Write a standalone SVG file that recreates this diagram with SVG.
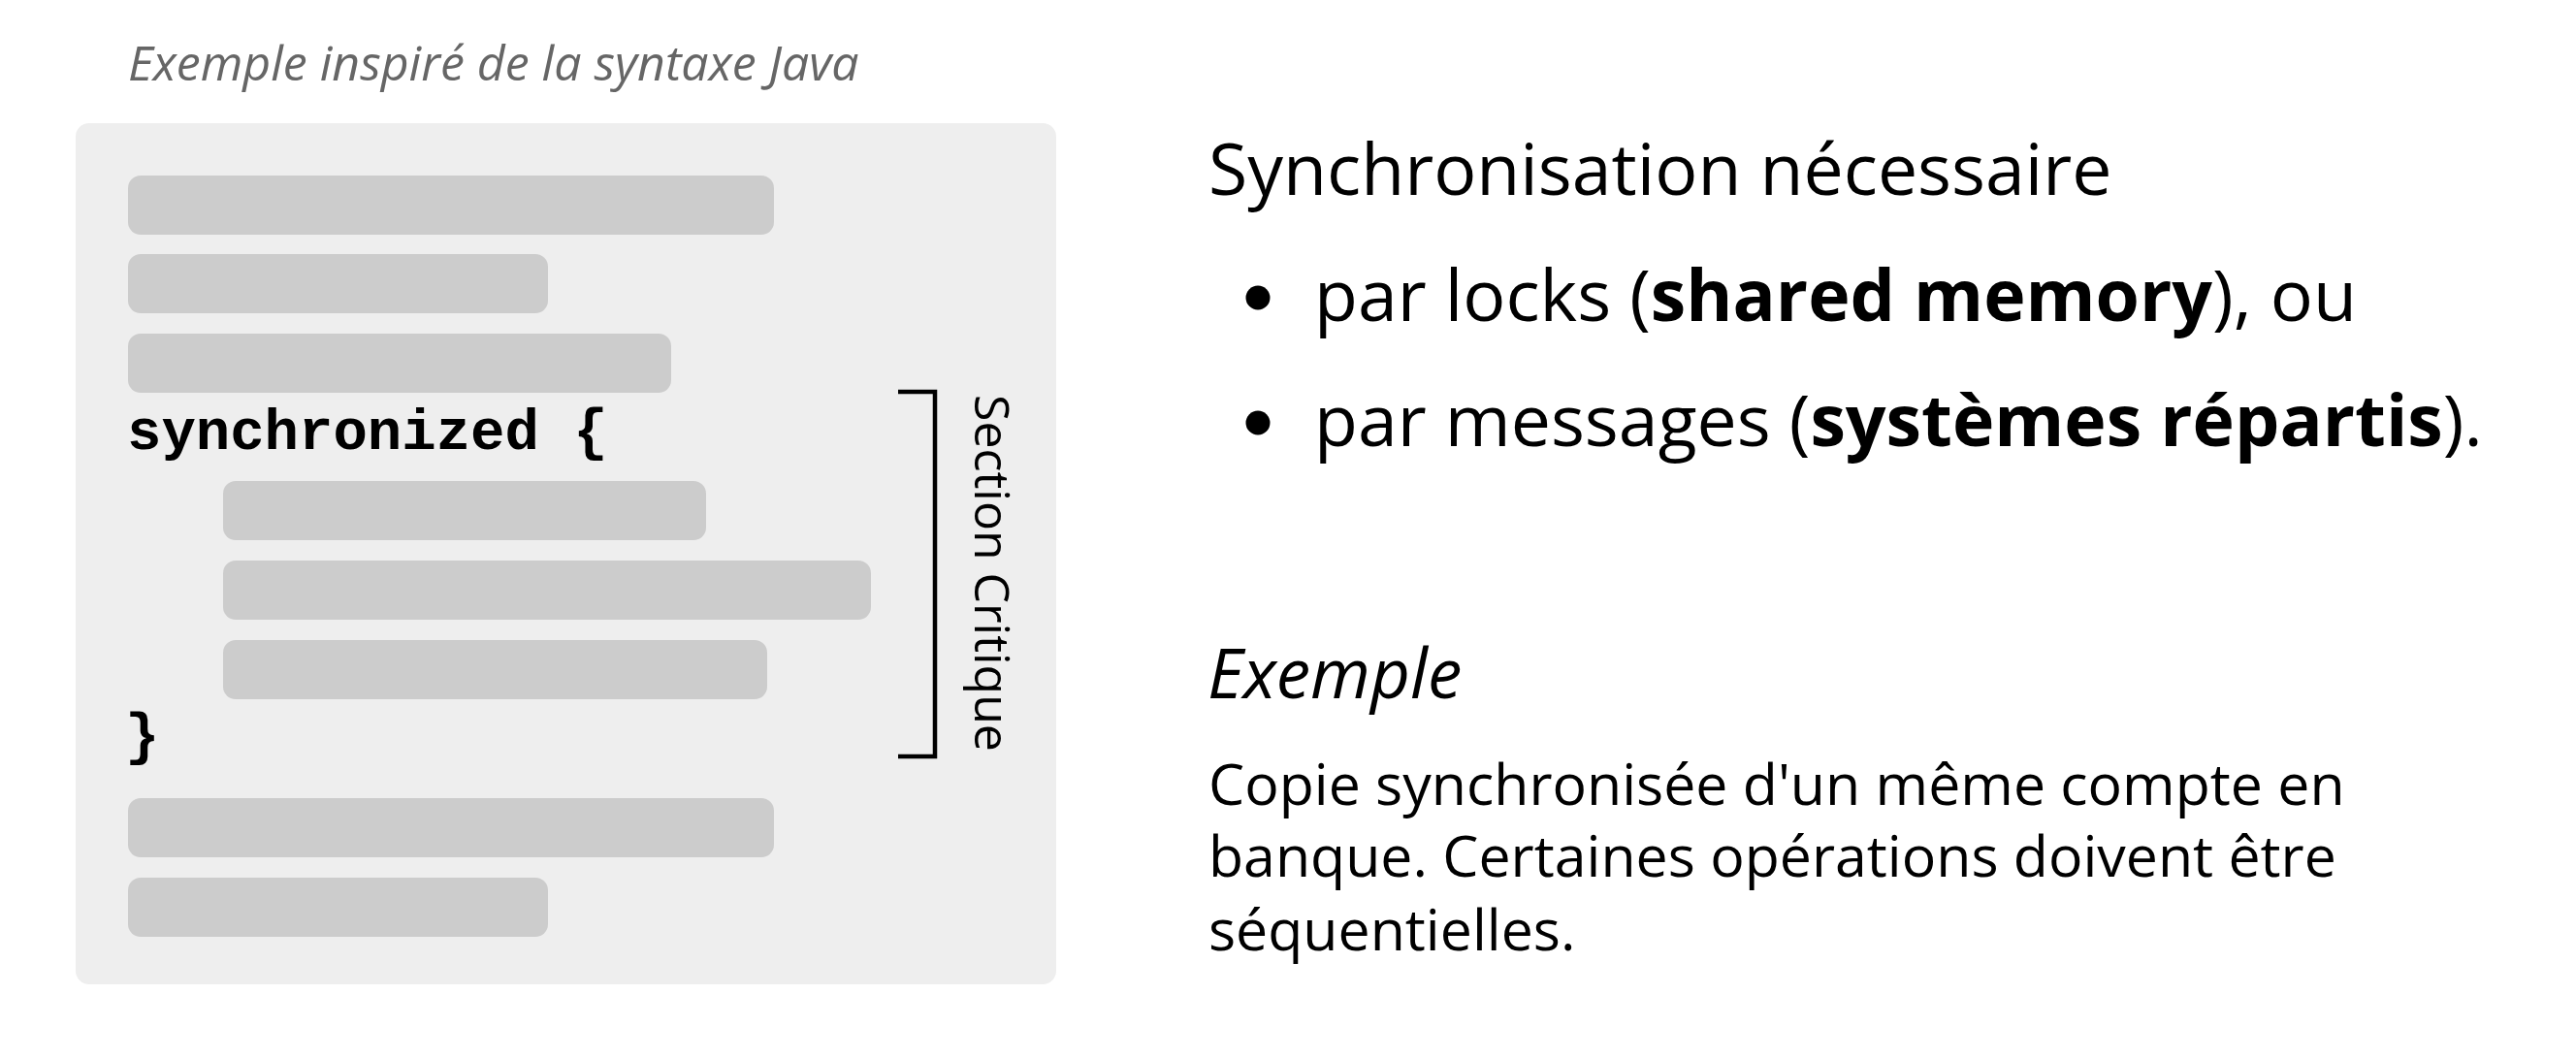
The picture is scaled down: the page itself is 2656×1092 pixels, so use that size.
<svg xmlns="http://www.w3.org/2000/svg" width="2656" height="1092" viewBox="0 0 2656 1092">
<style>
.sans{font-family:"Open Sans","Noto Sans","DejaVu Sans",sans-serif;fill:#000}
.bar{fill:#cccccc}
.code{font-family:"Liberation Mono","DejaVu Sans Mono",monospace;font-weight:bold;font-size:59px;fill:#000}
</style>
<rect width="2656" height="1092" fill="#ffffff"/>
<text id="caption" class="sans" x="132" y="83" font-size="50" font-style="italic" style="fill:#666666">Exemple inspiré de la syntaxe Java</text>
<g id="code-box">
<rect x="78" y="127" width="1011" height="888" rx="14" fill="#eeeeee"/>
<rect class="bar" x="132" y="181" width="666" height="61" rx="13"/>
<rect class="bar" x="132" y="262" width="433" height="61" rx="13"/>
<rect class="bar" x="132" y="344" width="560" height="61" rx="13"/>
<text class="code" x="131" y="463">synchronized {</text>
<rect class="bar" x="230" y="496" width="498" height="61" rx="13"/>
<rect class="bar" x="230" y="578" width="668" height="61" rx="13"/>
<rect class="bar" x="230" y="660" width="561" height="61" rx="13"/>
<text class="code" x="129" y="777">}</text>
<rect class="bar" x="132" y="823" width="666" height="61" rx="13"/>
<rect class="bar" x="132" y="905" width="433" height="61" rx="13"/>
</g>
<g id="critical-section">
<path d="M926,404 H964 V780 H926" fill="none" stroke="#000" stroke-width="4.5"/>
<text class="sans" font-size="50" transform="translate(1005,407) rotate(90)">Section Critique</text>
</g>
<g id="sync-list">
<text class="sans" x="1246" y="201" font-size="73.4">Synchronisation nécessaire</text>
<circle cx="1297" cy="307" r="12.5" fill="#000"/>
<text class="sans" x="1355" y="331" font-size="73.4">par locks (<tspan font-weight="bold">shared memory</tspan>), ou</text>
<circle cx="1297" cy="436" r="12.5" fill="#000"/>
<text class="sans" x="1355" y="460" font-size="73.4">par messages (<tspan font-weight="bold">systèmes répartis</tspan>).</text>
</g>
<g id="example">
<text class="sans" x="1245" y="720" font-size="71" font-style="italic">Exemple</text>
<text class="sans" font-size="59"><tspan x="1246" y="830">Copie synchronisée d'un même compte en</tspan><tspan x="1246" y="904">banque. Certaines opérations doivent être</tspan><tspan x="1246" y="980">séquentielles.</tspan></text>
</g>
</svg>
